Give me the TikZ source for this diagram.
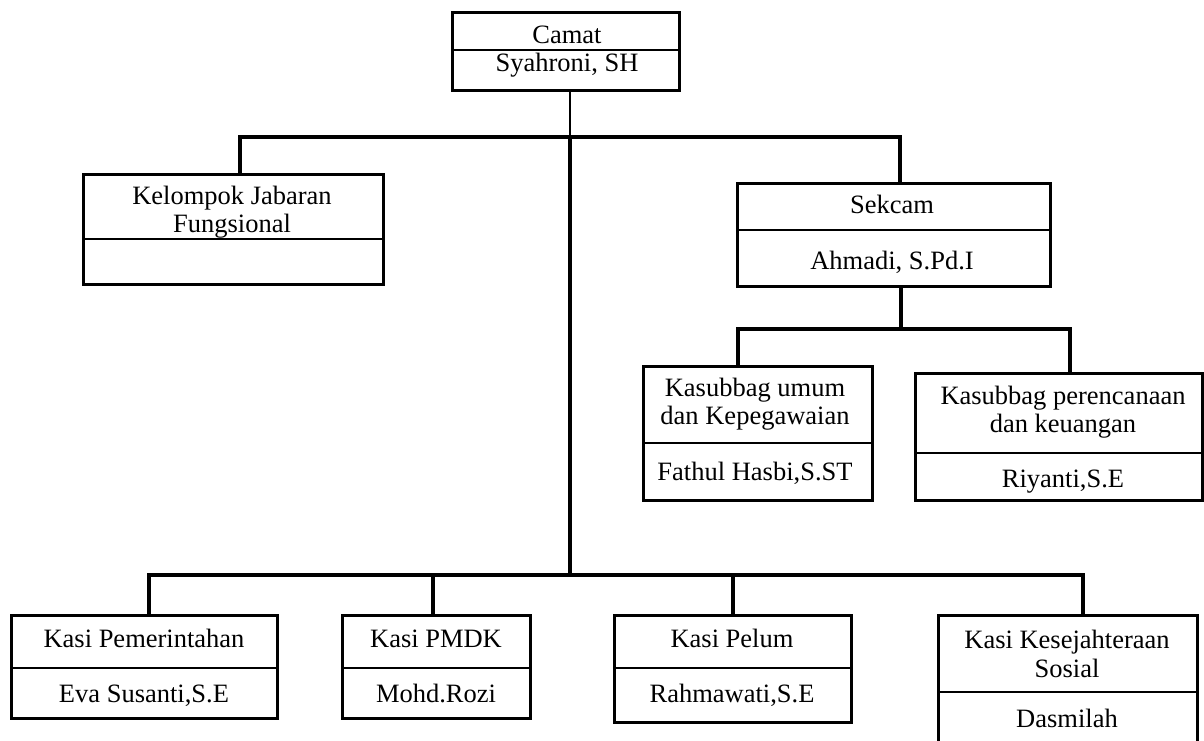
\documentclass[tikz,border=0pt]{standalone}
\usepackage{fontspec}
\setmainfont{Liberation Serif}
\tikzset{
  orgbox/.style={draw, line width=3pt, rectangle, inner sep=0pt, fill=white},
  divline/.style={line width=2pt},
  link/.style={line width=4pt, line join=miter},
  thinlink/.style={line width=2.2pt},
  lbl/.style={font=\fontsize{26.5}{28.5}\selectfont, inner sep=0pt, text height=18pt, text depth=5pt},
  lbltwo/.style={font=\fontsize{26.5}{28.5}\selectfont, inner sep=0pt, align=center},
}
\newcommand\mkbox[6]{%
  \node[orgbox, minimum width={#4-#2}, minimum height={#5-#3}] (#1) at ({(#2+#4)/2},{(#3+#5)/2}) {};
  \draw[divline] (#2,#6) -- (#4,#6);
}
\begin{document}
\begin{tikzpicture}[x=1pt, y=-1pt]
\useasboundingbox[fill=white] (0,0) rectangle (1204,740);

% connector junctions
\coordinate (jt) at (570,137);
\coordinate (jb) at (570,575);
\coordinate (c1) at (240,137);
\coordinate (c2) at (900,137);
\coordinate (s1) at (901,329);
\coordinate (s2) at (738,329);
\coordinate (s3) at (1070,329);
\coordinate (b1) at (149,575);
\coordinate (b2) at (433,575);
\coordinate (b3) at (733,575);
\coordinate (b4) at (1083,575);

% boxes
\mkbox{camat}{452}{12}{679}{90}{50}
\mkbox{kjf}{83}{174}{383}{284}{239}
\mkbox{sekcam}{737}{183}{1050}{286}{230}
\mkbox{kum}{643}{366}{872}{500}{443}
\mkbox{kpk}{915}{373}{1202}{500}{453}
\mkbox{kpem}{11}{615}{277}{718}{668}
\mkbox{kpmdk}{342}{615}{530}{718}{668}
\mkbox{kpel}{614}{615}{851}{722}{668}
\mkbox{kkes}{938}{615}{1197}{760}{692}

\draw[thinlink] (camat.south -| jt) -- (jt);
\draw[link] (jt) -- (jb);
\draw[link] (kjf.north -| c1) -- (c1) -- (c2) -- (sekcam.north -| c2);
\draw[link] (sekcam.south -| s1) -- (s1);
\draw[link] (kum.north -| s2) -- (s2) -- (s3) -- (kpk.north -| s3);
\draw[link] (kpem.north -| b1) -- (b1) -- (b4) -- (kkes.north -| b4);
\draw[link] (b2) -- (kpmdk.north -| b2);
\draw[link] (b3) -- (kpel.north -| b3);

% texts
\node[lbl] (t1) at (567,37) {Camat};
\node[lbl] (t2) at (567,65) {Syahroni, SH};
\node[lbltwo] (t3) at (232,212) {Kelompok Jabaran\\Fungsional};
\node[lbl] (t4) at (892,207) {Sekcam};
\node[lbl] (t5) at (892,263) {Ahmadi, S.Pd.I};
\node[lbltwo] (t6) at (755,404) {Kasubbag umum\\dan Kepegawaian};
\node[lbl] (t7) at (755,474) {Fathul Hasbi,S.ST};
\node[lbltwo] (t8) at (1063,412) {Kasubbag perencanaan\\dan keuangan};
\node[lbl] (t9) at (1063,481) {Riyanti,S.E};
\node[lbl] (t10) at (144,641) {Kasi Pemerintahan};
\node[lbl] (t11) at (144,696) {Eva Susanti,S.E};
\node[lbl] (t12) at (436,641) {Kasi PMDK};
\node[lbl] (t13) at (436,696) {Mohd.Rozi};
\node[lbl] (t14) at (732,641) {Kasi Pelum};
\node[lbl] (t15) at (732,696) {Rahmawati,S.E};
\node[lbltwo] (t16) at (1067,654) {Kasi Kesejahteraan\\Sosial};
\node[lbl] (t17) at (1067,721) {Dasmilah};
\end{tikzpicture}
\end{document}
